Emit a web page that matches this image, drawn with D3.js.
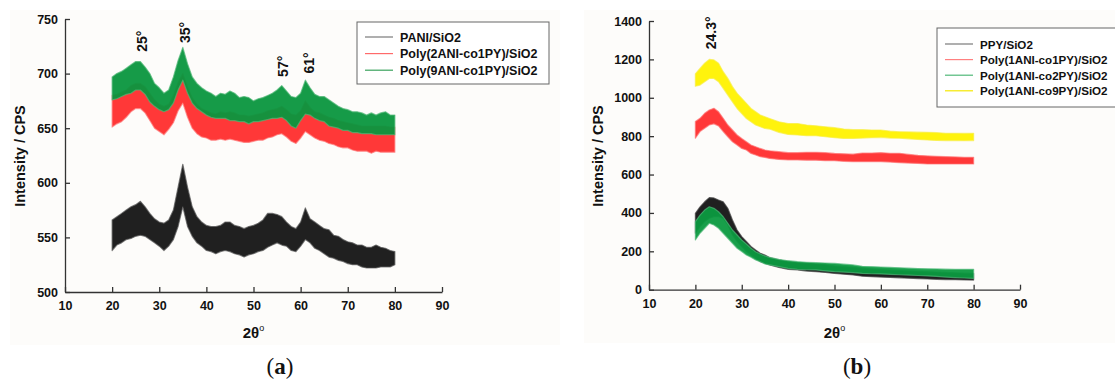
<!DOCTYPE html>
<html><head><meta charset="utf-8">
<script src="https://cdn.jsdelivr.net/npm/d3@7"></script>
<style>body{margin:0;background:#fff;}svg{display:block;}</style>
</head><body>
<svg id="c" width="1115" height="380"></svg>
<script>
// ---------- Panel (a) data ----------
const xTicks = [10,20,30,40,50,60,70,80,90];
const yTicksA = [500,550,600,650,700,750];
const yTicksB = [0,200,400,600,800,1000,1200,1400];
const seriesNamesA = ["PANI/SiO2","Poly(2ANI-co1PY)/SiO2","Poly(9ANI-co1PY)/SiO2"];
const seriesNamesB = ["PPY/SiO2","Poly(1ANI-co1PY)/SiO2","Poly(1ANI-co2PY)/SiO2","Poly(1ANI-co9PY)/SiO2"];
const peakLabelsA = ["25°","35°","57°","61°"];
const peakXA = [26.3,35.4,56.3,61.8];
const peakYA = [720,728,697,700];
const peakLabelsB = ["24.3°"];
const peakXB = [23.4];
const peakYB = [1253];

const twoThetaA = [20,21,22,23,24,25,26,27,28,29,30,31,32,33,34,35,36,37,38,39,40,41,42,43,44,45,46,47,48,49,50,
  51,52,53,54,55,56,57,58,59,60,61,62,63,64,65,66,67,68,69,70,71,72,73,74,75,76,77,78,79,80];
const pani_lo = [538,543,545,548,549,551,552,551,548,545,542,538,542,548,560,578,560,551,545,542,538,537,535,537,538,537,535,534,532,534,535,
  537,538,541,543,545,543,542,538,537,542,548,545,540,538,535,532,531,529,528,526,525,525,523,522,522,522,523,523,523,525];
const pani_hi = [566,569,572,575,578,580,583,578,572,567,564,563,566,575,596,617,596,578,569,564,561,560,560,561,564,564,561,560,558,560,561,
  563,566,572,572,571,569,564,560,558,564,577,567,564,561,558,557,552,551,548,546,545,543,543,541,541,543,541,540,538,537];
const ani2_lo = [651,654,656,660,665,668,668,664,657,650,647,644,649,655,666,673,660,650,645,642,641,639,639,640,639,640,639,638,637,637,638,
  639,639,641,642,644,645,642,638,636,641,647,644,641,639,638,636,635,633,632,632,630,629,629,629,627,629,628,628,628,628];
const ani2_hi = [680,681,683,685,689,691,691,688,682,676,672,670,672,680,692,700,688,678,672,668,666,664,663,665,664,665,664,662,662,661,662,
  663,664,666,667,668,670,667,663,662,666,675,669,665,664,662,660,659,657,656,655,654,653,652,652,652,652,652,652,651,651];
const ani9_lo = [676,677,679,681,682,685,685,681,674,670,667,665,667,673,685,694,682,673,668,665,662,660,659,659,659,657,657,656,656,654,656,
  656,657,658,659,659,660,657,652,650,657,663,662,659,657,656,652,651,650,648,648,646,646,645,645,645,644,644,644,644,644];
const ani9_hi = [697,700,702,705,708,711,711,706,700,691,687,682,685,697,712,724,709,697,691,687,684,682,679,682,681,684,682,678,679,678,675,
  677,678,680,682,685,689,684,679,678,682,694,687,681,679,679,676,673,670,668,667,665,665,664,662,664,662,664,665,662,662];

// ---------- Panel (b) data ----------
const twoThetaB = [20,21,22,23,24,25,26,27,28,29,30,31,32,33,34,35,36,38,40,42,44,46,48,50,52,54,56,58,60,62,64,66,68,70,72,74,76,78,80];
const ppy_lo = [294,329,355,372,381,381,372,337,285,251,225,199,181,164,146,138,129,116,106,103,97,94,90,85,81,77,70,68,66,64,62,60,58,56,54,53,52,51,50];
const ppy_hi = [398,432,458,480,478,467,458,424,363,311,277,251,225,207,190,181,168,155,146,141,137,134,130,124,120,117,112,108,105,102,100,98,96,94,92,90,88,86,85];
const co1_lo = [789,824,841,858,864,853,824,797,771,754,736,728,710,702,693,689,684,679,676,676,675,675,672,672,669,667,667,667,667,665,662,660,658,655,655,655,655,655,655];
const co1_hi = [876,893,919,936,945,927,893,858,832,806,788,771,754,745,736,728,724,719,714,714,716,716,714,710,708,706,712,712,714,711,711,705,700,697,695,693,692,690,690];
const co2_lo = [259,294,320,346,337,320,294,268,242,216,199,181,169,155,146,134,129,120,111,106,104,103,98,94,92,89,85,83,82,80,78,76,74,72,69,66,63,61,59];
const co2_hi = [355,389,415,432,424,406,380,346,311,285,259,238,216,198,186,176,168,158,151,146,143,141,139,137,133,129,122,120,118,116,114,112,110,109,108,107,106,106,106];
const co9_lo = [1060,1066,1084,1101,1101,1084,1049,1014,979,944,918,892,875,858,849,840,837,820,809,806,802,802,797,792,788,788,790,792,794,790,789,786,783,780,778,777,777,776,777];
const co9_hi = [1125,1153,1180,1200,1197,1180,1136,1101,1058,1023,997,971,944,927,910,901,892,875,866,866,858,854,849,844,837,834,834,832,832,826,823,822,821,820,818,815,815,814,815];

// ---------- drawing ----------
const svg = d3.select("#c");
const FONT = "'Liberation Sans', Arial, sans-serif";

svg.append("rect").attr("x",10).attr("y",10).attr("width",550).attr("height",335).attr("fill","#fdfcfa");
svg.append("rect").attr("x",584).attr("y",10).attr("width",531).attr("height",333).attr("fill","#fdfcfa");

function panel(cfg){
  const g = svg.append("g");
  const x = d3.scaleLinear().domain([10,90]).range(cfg.xr);
  const y = d3.scaleLinear().domain(cfg.yd).range(cfg.yr);

  // series
  cfg.series.forEach(s=>{
    const area = d3.area()
      .x((d,i)=>x(cfg.xs[i]))
      .y0((d,i)=>y(s.lo[i]))
      .y1((d,i)=>y(s.hi[i]));
    g.append("path").datum(s.lo).attr("d",area)
      .attr("fill",s.color).attr("fill-opacity",0.95)
      .attr("stroke",s.edge).attr("stroke-width",1.2).attr("stroke-opacity",0.7)
      .attr("stroke-linejoin","round");
  });

  // axes
  const ax = d3.axisBottom(x).tickValues(xTicks).tickSizeInner(-5).tickSizeOuter(0).tickPadding(9.5).tickFormat(d3.format("d"));
  const ay = d3.axisLeft(y).tickValues(cfg.yt).tickSizeInner(-5).tickSizeOuter(0).tickPadding(7).tickFormat(d3.format("d"));
  const gx = g.append("g").attr("transform",`translate(0,${cfg.yr[0]})`).call(ax);
  const gy = g.append("g").attr("transform",`translate(${cfg.xr[0]},0)`).call(ay);
  [gx,gy].forEach(a=>{
    a.select(".domain").attr("stroke","#333").attr("stroke-width",1.3);
    a.selectAll(".tick line").attr("stroke","#333").attr("stroke-width",1.3);
    a.selectAll(".tick text").attr("font-family",FONT).attr("font-weight","bold").attr("font-size",12.5).attr("fill","#111");
  });

  // axis titles
  g.append("text").attr("transform",`translate(${cfg.ylabX},156) rotate(-90)`)
    .attr("text-anchor","middle").attr("font-family",FONT).attr("font-weight","bold").attr("font-size",14.5).attr("fill","#111")
    .text("Intensity / CPS");
  const xt = g.append("text").attr("x",x(50)).attr("y",338).attr("text-anchor","middle")
    .attr("font-family",FONT).attr("font-weight","bold").attr("font-size",15).attr("fill","#111");
  xt.append("tspan").text("2θ");
  xt.append("tspan").attr("font-size",9).attr("font-weight","normal").attr("dy",-7).text("o");

  // peak labels
  cfg.peaks.labels.forEach((t,i)=>{
    g.append("text").attr("transform",`translate(${x(cfg.peaks.xs[i])+5},${y(cfg.peaks.ys[i])}) rotate(-90)`)
      .attr("font-family",FONT).attr("font-weight","bold").attr("font-size",14).attr("fill","#111").text(t);
  });

  // legend
  const L = cfg.legend;
  g.append("rect").attr("x",L.x).attr("y",L.y).attr("width",L.w).attr("height",L.h)
    .attr("fill","#fff").attr("stroke","#666").attr("stroke-width",1);
  cfg.names.forEach((n,i)=>{
    const yy = L.y0 + i*L.dy;
    g.append("line").attr("x1",L.lx).attr("x2",L.lx+28).attr("y1",yy).attr("y2",yy)
      .attr("stroke",cfg.legendColors[i]).attr("stroke-width",1.2);
    g.append("text").attr("x",L.lx+35).attr("y",yy+4.5).attr("font-family",FONT).attr("font-weight","bold")
      .attr("font-size",L.fs).attr("fill","#111").text(n);
  });

  // panel letter
  const pl = svg.append("text").attr("x",cfg.letterX).attr("y",374).attr("text-anchor","middle")
    .attr("font-family","'Liberation Serif','DejaVu Serif',serif").attr("font-size",23).attr("fill","#111");
  pl.append("tspan").text("(");
  pl.append("tspan").attr("font-weight","bold").text(cfg.letter);
  pl.append("tspan").text(")");
}

panel({
  xr:[65,442], yd:[500,750], yr:[292,19], yt:yTicksA, xs:twoThetaA, ylabX:25,
  series:[
    {lo:pani_lo, hi:pani_hi, color:"#141414", edge:"#555"},
    {lo:ani2_lo, hi:ani2_hi, color:"#ff2d2d", edge:"#ff7a7a"},
    {lo:ani9_lo, hi:ani9_hi, color:"#09963e", edge:"#4fb675"}
  ],
  names:seriesNamesA, legendColors:["#7a7a7a","#ff6a6a","#3aa35e"],
  legend:{x:357,y:22,w:192,h:62,lx:365,y0:37,dy:16.6,fs:12.5},
  peaks:{labels:peakLabelsA, xs:peakXA, ys:peakYA},
  letter:"a", letterX:280
});

panel({
  xr:[649,1020], yd:[0,1400], yr:[289.7,21], yt:yTicksB, xs:twoThetaB, ylabX:603,
  series:[
    {lo:ppy_lo, hi:ppy_hi, color:"#141414", edge:"#444"},
    {lo:co1_lo, hi:co1_hi, color:"#ff2d2d", edge:"#ff7070"},
    {lo:co2_lo, hi:co2_hi, color:"#0c9a40", edge:"#4fb878"},
    {lo:co9_lo, hi:co9_hi, color:"#fff200", edge:"#f8ee40"}
  ],
  names:seriesNamesB, legendColors:["#7a7a7a","#ff8080","#50b878","#f5e800"],
  legend:{x:937,y:28,w:200,h:79,lx:945,y0:44,dy:15.6,fs:11.6},
  peaks:{labels:peakLabelsB, xs:peakXB, ys:peakYB},
  letter:"b", letterX:857
});
</script>
</body></html>
